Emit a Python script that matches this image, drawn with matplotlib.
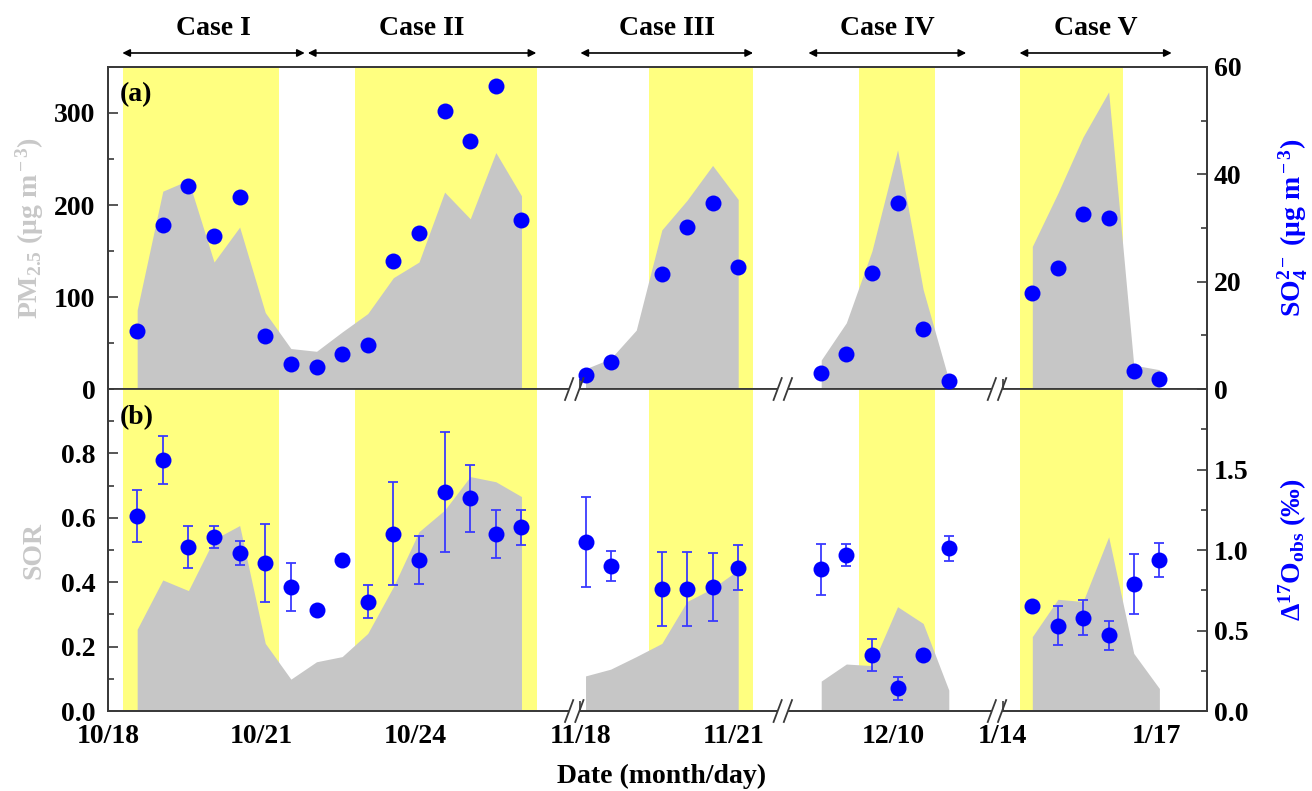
import numpy as np
import matplotlib
matplotlib.use("Agg")
import matplotlib.pyplot as plt
import matplotlib.transforms as mtransforms
from matplotlib.lines import Line2D
from matplotlib.patches import Rectangle
from matplotlib.ticker import FixedLocator, MultipleLocator

plt.rcParams["font.family"] = ["Liberation Serif", "DejaVu Serif"]
plt.rcParams["font.weight"] = "bold"
plt.rcParams["axes.labelweight"] = "bold"
plt.rcParams["mathtext.fontset"] = "custom"
plt.rcParams["mathtext.rm"] = "Liberation Serif:bold"
plt.rcParams["mathtext.it"] = "Liberation Serif:bold:italic"
plt.rcParams["mathtext.bf"] = "Liberation Serif:bold"

# ---- data (sample time = day of month, fraction = time of day) ----
oct_t = [18.57, 19.07, 19.57, 20.07, 20.57, 21.07, 21.57, 22.07,
         22.57, 23.07, 23.57, 24.07, 24.57, 25.07, 25.57, 26.07]
oct_pm = [86, 215, 227, 138, 176, 83, 44, 41, 62, 82, 121, 138, 214, 185, 257, 210]
oct_so4 = [10.8, 30.5, 37.9, 28.5, 35.8, 9.9, 4.6, 4.1, 6.6, 8.2, 23.9, 29.0, 51.8, 46.3, 56.5, 31.5]
oct_sor = [0.254, 0.407, 0.374, 0.533, 0.576, 0.21, 0.099, 0.153,
           0.169, 0.241, 0.386, 0.557, 0.624, 0.728, 0.712, 0.666]
oct_d17o = [1.21, 1.56, 1.02, 1.08, 0.98, 0.92, 0.77, 0.63, 0.94, 0.68, 1.10, 0.94, 1.36, 1.32, 1.10, 1.14]
oct_err = [0.16, 0.15, 0.13, 0.07, 0.075, 0.24, 0.15, np.nan, np.nan, 0.10, 0.32, 0.15, 0.37, 0.21, 0.15, 0.11]

nov_t = [18.10, 18.59, 19.09, 19.59, 20.08, 20.58, 21.08]
nov_pm = [22, 33, 64, 173, 205, 243, 206]
nov_so4 = [2.6, 5.1, np.nan, 21.4, 30.1, 34.7, 22.8]
nov_sor = [0.109, 0.13, 0.169, 0.21, 0.34, 0.381, 0.438]
nov_d17o = [1.05, 0.90, np.nan, 0.76, 0.76, 0.77, 0.89]
nov_err = [0.28, 0.095, np.nan, 0.23, 0.23, 0.21, 0.14]

dec_t = [8.59, 9.08, 9.58, 10.08, 10.58, 11.08]
dec_pm = [31.5, 72, 150, 260, 108, 10]
dec_so4 = [3.0, 6.6, 21.6, 34.6, 11.1, 1.5]
dec_sor = [0.093, 0.146, 0.141, 0.324, 0.272, 0.065]
dec_d17o = [0.88, 0.97, 0.35, 0.14, 0.35, 1.01]
dec_err = [0.16, 0.07, 0.10, 0.07, 0.03, 0.08]

jan_t = [14.58, 15.08, 15.57, 16.07, 16.56, 17.06]
jan_pm = [155, 213, 274, 323, 26, 21]
jan_so4 = [17.8, 22.6, 32.7, 31.8, 3.4, 1.9]
jan_sor = [0.231, 0.347, 0.34, 0.541, 0.179, 0.07]
jan_d17o = [0.65, 0.53, 0.58, 0.47, 0.79, 0.94]
jan_err = [np.nan, 0.12, 0.11, 0.09, 0.185, 0.105]

# haze episodes (yellow) and case ranges
haze_seg = ["oct", "oct", "nov", "dec", "jan"]
haze_start = [18.29, 22.83, 19.33, 9.33, 14.33]
haze_end = [21.33, 26.37, 21.37, 10.82, 16.35]

cases = ["Case I", "Case II", "Case III", "Case IV", "Case V"]
case_seg = ["oct", "oct", "nov", "dec", "jan"]
case_start = [18.28, 21.90, 18.0, 8.34, 14.33]
case_end = [21.84, 26.36, 21.37, 11.42, 17.30]

major_ticks = [("oct", 18), ("oct", 21), ("oct", 24), ("nov", 18), ("nov", 21),
               ("dec", 10), ("jan", 14), ("jan", 17)]
major_labels = ["10/18", "10/21", "10/24", "11/18", "11/21", "12/10", "1/14", "1/17"]
minor_ticks = [("oct", 19), ("oct", 20), ("oct", 22), ("oct", 23), ("oct", 25), ("oct", 26),
               ("nov", 19), ("nov", 20), ("dec", 9), ("dec", 11), ("jan", 15), ("jan", 16)]

# where each month block sits on the broken axis: (anchor day, axis position)
seg_anchor = {"oct": (18, 0.0), "nov": (18, 9.22), "dec": (10, 15.33), "jan": (17, 20.46)}
breaks = [9.1, 13.17, 17.35]


def pos(seg, days):
    d0, x0 = seg_anchor[seg]
    return np.asarray(days, dtype=float) - d0 + x0


YELLOW = "#FFFF80"
GRAY = "#C6C6C6"
BLUE = "#0000FF"
SPINE = "#3a3a3a"

fig = plt.figure(figsize=(13.12, 7.91), dpi=100)
ax_a = fig.add_axes([0.0823, 0.5082, 0.8377, 0.4071])
ax_b = fig.add_axes([0.0823, 0.1011, 0.8377, 0.4071])
ax_a2 = ax_a.twinx()
ax_b2 = ax_b.twinx()

segments = {
    "oct": (oct_t, oct_pm, oct_so4, oct_sor, oct_d17o, oct_err),
    "nov": (nov_t, nov_pm, nov_so4, nov_sor, nov_d17o, nov_err),
    "dec": (dec_t, dec_pm, dec_so4, dec_sor, dec_d17o, dec_err),
    "jan": (jan_t, jan_pm, jan_so4, jan_sor, jan_d17o, jan_err),
}

for seg, s, e in zip(haze_seg, haze_start, haze_end):
    for ax in (ax_a, ax_b):
        ax.axvspan(pos(seg, s), pos(seg, e), color=YELLOW, lw=0, zorder=1)

for seg, (t, pm, so4, sor, d17o, err) in segments.items():
    x = pos(seg, t)
    ax_a.fill_between(x, 0, pm, color=GRAY, lw=0, zorder=2)
    ax_b.fill_between(x, 0, sor, color=GRAY, lw=0, zorder=2)
    ax_a2.plot(x, so4, "o", color=BLUE, ms=11.5, mec="none", zorder=3)
    ax_b2.errorbar(x, d17o, yerr=err, fmt="o", color=BLUE, ms=11.5, mec="none",
                   ecolor="#3a3aff", elinewidth=1.3, capsize=3.5, capthick=1.3, zorder=3)

xmax = 21.45
for ax in (ax_a, ax_b, ax_a2, ax_b2):
    ax.set_xlim(0, xmax)
    for sp in ax.spines.values():
        sp.set_color(SPINE)
        sp.set_linewidth(1.3)

ax_a.set_ylim(0, 350)
ax_a2.set_ylim(0, 60)
ax_b.set_ylim(0, 1.0)
ax_b2.set_ylim(0, 2.0)

ax_a.yaxis.set_major_locator(MultipleLocator(100))
ax_a.yaxis.set_minor_locator(MultipleLocator(50))
ax_a2.yaxis.set_major_locator(MultipleLocator(20))
ax_a2.yaxis.set_minor_locator(MultipleLocator(10))
ax_b.yaxis.set_major_locator(FixedLocator([0.0, 0.2, 0.4, 0.6, 0.8]))
ax_b.yaxis.set_minor_locator(MultipleLocator(0.1))
ax_b.set_yticklabels(["0.0", "0.2", "0.4", "0.6", "0.8"])
ax_b2.yaxis.set_major_locator(FixedLocator([0.0, 0.5, 1.0, 1.5]))
ax_b2.yaxis.set_minor_locator(MultipleLocator(0.25))
ax_b2.set_yticklabels(["0.0", "0.5", "1.0", "1.5"])

xmaj = [float(pos(s, d)) for s, d in major_ticks]
xmin = [float(pos(s, d)) for s, d in minor_ticks]
for ax in (ax_a, ax_b):
    ax.set_xticks(xmaj)
    ax.set_xticks(xmin, minor=True)
ax_b.set_xticklabels(major_labels)
ax_a.tick_params(axis="x", which="both", labelbottom=False)

for ax in (ax_a, ax_b, ax_a2, ax_b2):
    ax.tick_params(which="both", direction="in", color=SPINE, width=1.2,
                   labelsize=20, top=False)
    ax.tick_params(which="major", length=7)
    ax.tick_params(which="minor", length=4)
for ax in (ax_a, ax_b):
    ax.tick_params(axis="y", pad=9, right=False)
    ax.tick_params(axis="x", pad=9)
for ax in (ax_a2, ax_b2):
    ax.tick_params(axis="y", pad=5)
    ax.tick_params(axis="x", which="both", bottom=False)

ax_b.spines["top"].set_visible(False)
ax_b2.spines["top"].set_visible(False)

ax_a.set_ylabel(r"PM$_{\rm 2.5}$ (μg m$^{\rm -3}$)", color="#C8C8C8", fontsize=20, fontweight="bold")
ax_a2.set_ylabel(r"SO$_{\rm 4}^{\rm 2-}$ (μg m$^{\rm -3}$)", color=BLUE, fontsize=20, fontweight="bold")
ax_b.set_ylabel("SOR", color="#C8C8C8", fontsize=20, fontweight="bold")
ax_b2.set_ylabel(r"Δ$^{\rm 17}$O$_{\rm obs}$ (‰)", color=BLUE, fontsize=20, fontweight="bold")
ax_a.yaxis.set_label_coords(-0.056, 0.5)
ax_b.yaxis.set_label_coords(-0.056, 0.5)
ax_a2.yaxis.set_label_coords(1.063, 0.5)
ax_b2.yaxis.set_label_coords(1.063, 0.5)
ax_b.set_xlabel("Date (month/day)", fontsize=20, fontweight="bold")
ax_b.xaxis.set_label_coords(0.504, -0.165)

ax_a.text(0.011, 0.913, "(a)", transform=ax_a.transAxes, fontsize=20, va="center", zorder=5)
ax_b.text(0.011, 0.91, "(b)", transform=ax_b.transAxes, fontsize=20, va="center", zorder=5)

# case arrows above panel (a)
trans_a = mtransforms.blended_transform_factory(ax_a.transData, ax_a.transAxes)
for name, seg, s, e in zip(cases, case_seg, case_start, case_end):
    x0, x1 = float(pos(seg, s)), float(pos(seg, e))
    ax_a.annotate("", xy=(x1, 1.0435), xytext=(x0, 1.0435), xycoords=trans_a,
                  textcoords=trans_a, annotation_clip=False,
                  arrowprops=dict(arrowstyle="<|-|>", color="black", lw=1.2,
                                  mutation_scale=11, shrinkA=0, shrinkB=0))
    ax_a.text((x0 + x1) / 2, 1.121, name, transform=trans_a, ha="center",
              va="center", fontsize=20, clip_on=False)

# axis break marks
for ax in (ax_a, ax_b):
    tr = mtransforms.blended_transform_factory(ax.transData, ax.transAxes)
    for xb in breaks:
        fig.add_artist(Rectangle((xb - 0.1, -0.012), 0.2, 0.024, transform=tr,
                                 facecolor="white", edgecolor="none", zorder=10))
        for dx in (-0.1, 0.1):
            fig.add_artist(Line2D([xb + dx - 0.08, xb + dx + 0.08], [-0.034, 0.034],
                                  transform=tr, color=SPINE, lw=1.3, zorder=11))

fig.savefig("out.png", dpi=100)
